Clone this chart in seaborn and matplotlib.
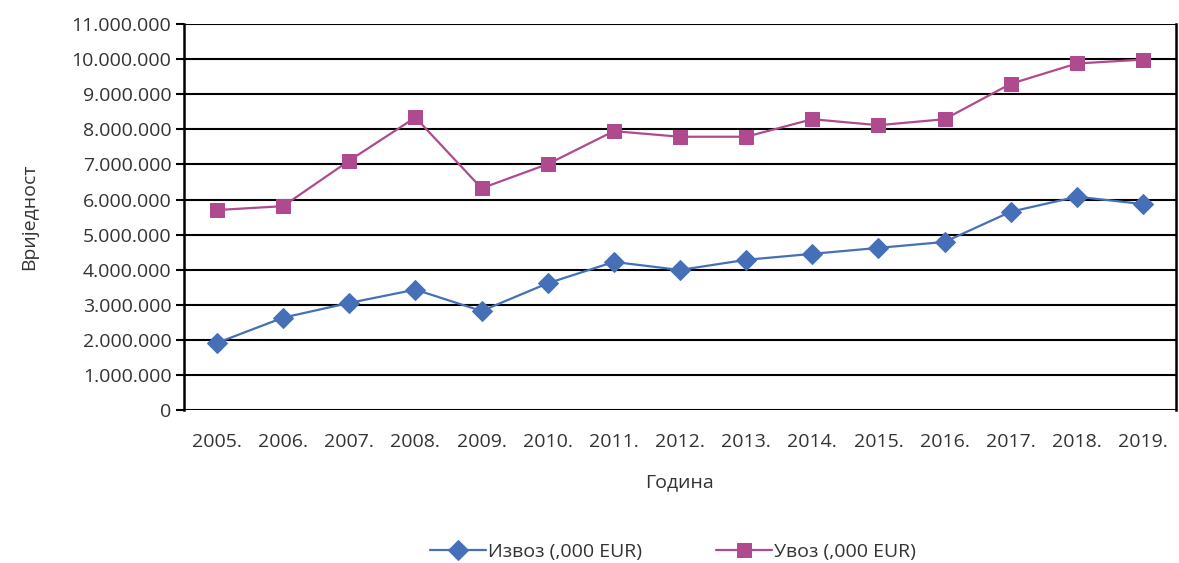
import numpy as np
import pandas as pd
import seaborn as sns
import matplotlib.pyplot as plt
from matplotlib.ticker import FuncFormatter, MultipleLocator

# подаци
years = ['2005.', '2006.', '2007.', '2008.', '2009.', '2010.', '2011.', '2012.',
         '2013.', '2014.', '2015.', '2016.', '2017.', '2018.', '2019.']
izvoz = [1910000, 2630000, 3050000, 3430000, 2820000, 3610000, 4220000, 3990000,
         4280000, 4450000, 4620000, 4790000, 5650000, 6080000, 5870000]
uvoz = [5700000, 5810000, 7110000, 8340000, 6320000, 7010000, 7950000, 7790000,
        7790000, 8290000, 8120000, 8290000, 9300000, 9880000, 9990000]

label_izvoz = 'Извоз (,000 EUR)'
label_uvoz = 'Увоз (,000 EUR)'
C_IZVOZ = '#4570b8'
C_UVOZ = '#b04a8f'
TXT = '#333333'
FS = 14

sns.set_style('white')
plt.rcParams['font.family'] = ['Open Sans', 'DejaVu Sans']

df = pd.DataFrame({'x': np.arange(len(years)), 'izvoz': izvoz, 'uvoz': uvoz})

fig = plt.figure(figsize=(11.79, 5.63), dpi=100)
ax = fig.add_axes([0.156, 0.272, 0.8415, 0.685])

sns.lineplot(data=df, x='x', y='izvoz', ax=ax, color=C_IZVOZ, marker='D',
             markersize=10, markeredgecolor=C_IZVOZ, linewidth=1.6, label=label_izvoz)
sns.lineplot(data=df, x='x', y='uvoz', ax=ax, color=C_UVOZ, marker='s',
             markersize=10, markeredgecolor=C_UVOZ, linewidth=1.6, label=label_uvoz)

ax.set_xlim(-0.5, len(years) - 0.5)
ax.set_ylim(0, 11000000)
ax.set_xticks(np.arange(len(years)))
ax.set_xticklabels(years)
ax.yaxis.set_major_locator(MultipleLocator(1000000))
ax.yaxis.set_major_formatter(FuncFormatter(lambda v, p: f'{int(v):,}'.replace(',', '.')))
ax.grid(axis='y', color='black', linewidth=1.5)
ax.set_axisbelow(True)

for s in ['left', 'right']:
    ax.spines[s].set_color('black')
    ax.spines[s].set_linewidth(1.8)
ax.spines['top'].set_visible(False)
ax.spines['bottom'].set_visible(False)

ax.tick_params(axis='y', which='major', left=True, length=6, width=1.5, color='black',
               labelsize=FS, labelcolor=TXT, pad=3)
ax.tick_params(axis='x', bottom=False, labelsize=FS, labelcolor=TXT, pad=13)

ax.set_xlabel('Година', fontsize=FS, color=TXT, labelpad=16)
ax.set_ylabel('Вриједност', fontsize=FS, color=TXT, labelpad=24)

ax.legend(loc='upper center', bbox_to_anchor=(0.493, -0.30), ncol=2, frameon=False,
          fontsize=FS, labelcolor=TXT, handlelength=2.9, columnspacing=3.8,
          handletextpad=0.1)

plt.savefig('out.png')
